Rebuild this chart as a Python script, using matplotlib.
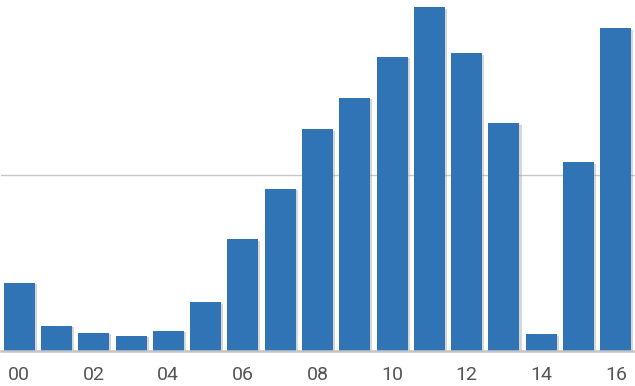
import matplotlib
matplotlib.use('Agg')
from matplotlib import pyplot as plt
from matplotlib import patheffects as pe
import numpy as np

hours = ['00', '01', '02', '03', '04', '05', '06', '07', '08',
         '09', '10', '11', '12', '13', '14', '15', '16']
values = [3.86, 1.42, 1.02, 0.82, 1.12, 2.73, 6.31, 9.18, 12.56,
          14.37, 16.70, 19.49, 16.88, 12.90, 0.93, 10.70, 18.30]

plt.rcParams['font.family'] = ['Roboto', 'DejaVu Sans']

fig = plt.figure(figsize=(6.35, 3.86), dpi=100)
ax = fig.add_axes([0.5 / 635, 35.5 / 386, 634 / 635, 350.5 / 386])

x = np.arange(len(hours))
bars = ax.bar(x, values, width=0.83, color='#3074b6', zorder=3)
for b in bars:
    b.set_path_effects([pe.SimplePatchShadow(offset=(1.5, -1), shadow_rgbFace='#999999', alpha=0.4),
                        pe.Normal()])

ax.set_xlim(-0.5, len(hours) - 0.5)
ax.set_ylim(0, 350.5 / 17.6)
ax.set_yticks([10])
ax.yaxis.grid(True, color='#c8c8c8', linewidth=1.0, zorder=0)
ax.tick_params(axis='y', left=False, labelleft=False)

ax.set_xticks(x[::2])
ax.set_xticklabels(hours[::2])
ax.tick_params(axis='x', length=0, pad=11, labelsize=14, labelcolor='#555555')

for s in ['top', 'right', 'left']:
    ax.spines[s].set_visible(False)
ax.spines['bottom'].set_color('#c4c4c4')
ax.spines['bottom'].set_linewidth(1.8)
ax.spines['bottom'].set_zorder(4)

fig.savefig('out.png', dpi=100)
